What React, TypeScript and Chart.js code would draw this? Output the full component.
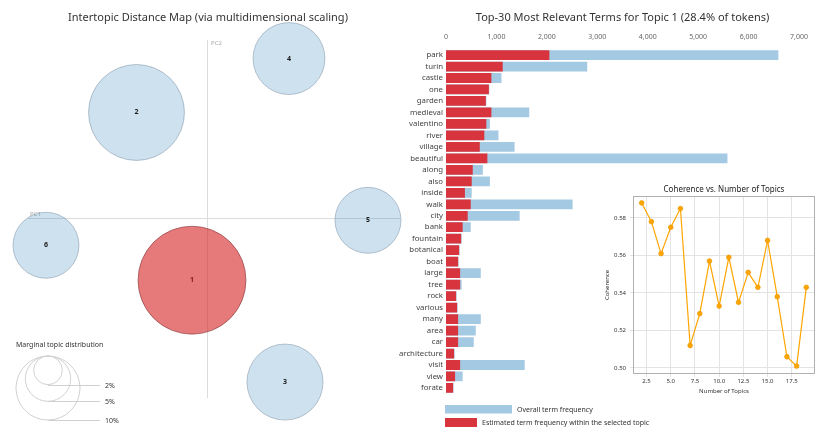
import React, { useEffect, useRef } from "react";
import { Chart, registerables } from "chart.js";
Chart.register(...registerables);

const FONT = "'Noto Sans', 'Open Sans', sans-serif";

// ---------- Intertopic distance map ----------
const topicIds = [1, 2, 3, 4, 5, 6];
const topicPC1 = [-0.015, -0.0705, 0.078, 0.082, 0.161, -0.161];
const topicPC2 = [-0.062, 0.106, -0.164, 0.16, -0.002, -0.027];
const topicShare = [28.4, 22.4, 14.1, 12.6, 10.6, 10.6];
const selectedTopic = 1;
const legendShares = [2, 5, 10];
const legendLabels = ["2%", "5%", "10%"];
const mapTitle = "Intertopic Distance Map (via multidimensional scaling)";

// ---------- Top-30 terms ----------
const terms = [
  "park", "turin", "castle", "one", "garden", "medieval", "valentino", "river", "village", "beautiful",
  "along", "also", "inside", "walk", "city", "bank", "fountain", "botanical", "boat", "large",
  "tree", "rock", "various", "many", "area", "car", "architecture", "visit", "view", "forate",
];
const overallFreq = [
  6590, 2800, 1100, 860, 800, 1650, 870, 1040, 1360, 5580,
  730, 870, 510, 2510, 1460, 490, 310, 270, 250, 690,
  310, 210, 230, 690, 590, 550, 170, 1560, 330, 150,
];
const topicFreq = [
  2050, 1125, 900, 850, 790, 900, 800, 760, 670, 820,
  530, 510, 375, 490, 430, 330, 300, 260, 240, 280,
  280, 200, 220, 240, 240, 240, 160, 280, 180, 140,
];
const barTitle = "Top-30 Most Relevant Terms for Topic 1 (28.4% of tokens)";
const overallLabel = "Overall term frequency";
const topicLabel = "Estimated term frequency within the selected topic";

// ---------- Coherence ----------
const numTopics = [2, 3, 4, 5, 6, 7, 8, 9, 10, 11, 12, 13, 14, 15, 16, 17, 18, 19];
const coherence = [
  0.588, 0.578, 0.561, 0.575, 0.585, 0.512, 0.529, 0.557, 0.533,
  0.559, 0.535, 0.551, 0.543, 0.568, 0.538, 0.506, 0.501, 0.543,
];
const cohTitle = "Coherence vs. Number of Topics";

const BLUE_FILL = "rgba(31,119,180,0.22)";
const BLUE_EDGE = "rgba(110,130,150,0.45)";
const RED_FILL = "rgba(214,39,40,0.62)";
const RED_EDGE = "rgba(120,50,50,0.55)";
const BAR_BLUE = "rgb(164,201,227)";
const BAR_RED = "rgb(216,52,61)";
const ORANGE = "#ffa500";
const RADIUS_K = 10.13;

function useChart(factory: (c: HTMLCanvasElement) => Chart) {
  const ref = useRef<HTMLCanvasElement>(null);
  useEffect(() => {
    const chart = factory(ref.current!);
    return () => chart.destroy();
  }, []);
  return ref;
}

const mapDecor = {
  id: "mapDecor",
  beforeDatasetsDraw(chart: any) {
    const { ctx } = chart;
    const x0 = chart.scales.x.getPixelForValue(0);
    const y0 = chart.scales.y.getPixelForValue(0);
    ctx.save();
    ctx.strokeStyle = "#dcdcdc";
    ctx.lineWidth = 1;
    ctx.beginPath();
    ctx.moveTo(Math.round(x0) + 0.5, 40);
    ctx.lineTo(Math.round(x0) + 0.5, 398);
    ctx.moveTo(28, Math.round(y0) + 0.5);
    ctx.lineTo(400, Math.round(y0) + 0.5);
    ctx.stroke();
    ctx.fillStyle = "#aaa";
    ctx.font = `6px ${FONT}`;
    ctx.textBaseline = "middle";
    ctx.textAlign = "left";
    ctx.fillText("PC2", x0 + 4, 43);
    ctx.fillText("PC1", 30, y0 - 4);
    ctx.restore();
  },
  afterDatasetsDraw(chart: any) {
    const { ctx } = chart;
    const meta = chart.getDatasetMeta(0);
    ctx.save();
    ctx.textAlign = "center";
    ctx.textBaseline = "middle";
    ctx.font = `bold 7px ${FONT}`;
    meta.data.forEach((el: any, i: number) => {
      ctx.fillStyle = topicIds[i] === selectedTopic ? "#8b1a1a" : "#1a1a1a";
      ctx.fillText(String(topicIds[i]), el.x, el.y);
    });
    // marginal topic distribution legend
    ctx.fillStyle = "#333";
    ctx.font = `7px ${FONT}`;
    ctx.textAlign = "left";
    ctx.fillText("Marginal topic distribution", 16, 345);
    const cx = 48;
    const top = 356;
    ctx.strokeStyle = "#d0d0d0";
    ctx.lineWidth = 1;
    legendShares.forEach((s, i) => {
      const r = RADIUS_K * Math.sqrt(s);
      ctx.beginPath();
      ctx.arc(cx, top + r, r, 0, Math.PI * 2);
      ctx.stroke();
      const yb = Math.round(top + 2 * r) + 0.5;
      ctx.beginPath();
      ctx.moveTo(cx, yb);
      ctx.lineTo(100, yb);
      ctx.stroke();
      ctx.fillStyle = "#333";
      ctx.fillText(legendLabels[i], 105, yb);
    });
    ctx.restore();
  },
};

function IntertopicMap() {
  const ref = useChart((c) =>
    new Chart(c, {
      type: "bubble",
      data: {
        datasets: [
          {
            data: topicIds.map((id, i) => ({
              x: topicPC1[i],
              y: topicPC2[i],
              r: RADIUS_K * Math.sqrt(topicShare[i]),
            })),
            backgroundColor: topicIds.map((id) => (id === selectedTopic ? RED_FILL : BLUE_FILL)),
            borderColor: topicIds.map((id) => (id === selectedTopic ? RED_EDGE : BLUE_EDGE)),
            borderWidth: 1,
            clip: false,
          } as any,
        ],
      },
      options: {
        responsive: false,
        animation: false,
        layout: { padding: 0, autoPadding: false },
        scales: {
          x: { display: false, min: -0.207, max: 0.209 },
          y: { display: false, min: -0.214, max: 0.194 },
        },
        plugins: {
          legend: { display: false },
          tooltip: { enabled: false },
          title: {
            display: true,
            text: mapTitle,
            color: "#333",
            font: { size: 11, family: FONT, weight: "normal" },
            padding: { top: 11.4, bottom: 0 },
          },
        },
      } as any,
      plugins: [mapDecor],
    })
  );
  return (
    <canvas ref={ref} width={416} height={432}
      style={{ position: "absolute", left: 0, top: 0, width: 416, height: 432 }} />
  );
}

const barLegend = {
  id: "barLegend",
  afterDraw(chart: any) {
    const { ctx, chartArea } = chart;
    const x = chartArea.left - 1;
    ctx.save();
    ctx.font = `7px ${FONT}`;
    ctx.textBaseline = "middle";
    ctx.textAlign = "left";
    ctx.fillStyle = BAR_BLUE;
    ctx.fillRect(x, 405, 67, 8.5);
    ctx.fillStyle = "#333";
    ctx.fillText(overallLabel, x + 72, 409.5);
    ctx.fillStyle = BAR_RED;
    ctx.fillRect(x, 418, 32, 9);
    ctx.fillStyle = "#333";
    ctx.fillText(topicLabel, x + 37, 423);
    ctx.restore();
  },
};

function TermBars() {
  const ref = useChart((c) =>
    new Chart(c, {
      type: "bar",
      data: {
        labels: terms,
        datasets: [
          {
            label: topicLabel,
            data: topicFreq,
            backgroundColor: BAR_RED,
            grouped: false,
            order: 0,
            categoryPercentage: 0.85,
            barPercentage: 1,
          } as any,
          {
            label: overallLabel,
            data: overallFreq,
            backgroundColor: BAR_BLUE,
            grouped: false,
            order: 1,
            categoryPercentage: 0.85,
            barPercentage: 1,
          } as any,
        ],
      },
      options: {
        indexAxis: "y",
        responsive: false,
        animation: false,
        layout: { padding: { top: 0, right: 15, bottom: 38.3, left: 0 } },
        scales: {
          x: {
            position: "top",
            min: 0,
            max: 7000,
            ticks: { stepSize: 1000, padding: 8, color: "#666", font: { size: 7, family: FONT } },
            grid: { display: false, drawTicks: false },
            border: { display: false },
            afterFit: (s: any) => { s.height = 24.7; },
          },
          y: {
            ticks: { padding: 3, color: "#444", autoSkip: false, font: { size: 7.8, family: FONT } },
            grid: { display: false, drawTicks: false },
            border: { display: false },
            afterFit: (s: any) => { s.width = 66; },
          },
        },
        plugins: {
          legend: { display: false },
          tooltip: { enabled: false },
          title: {
            display: true,
            fullSize: false,
            text: barTitle,
            color: "#333",
            font: { size: 11, family: FONT, weight: "normal" },
            padding: { top: 11.4, bottom: 0 },
          },
        },
      } as any,
      plugins: [barLegend],
    })
  );
  return (
    <canvas ref={ref} width={436} height={432}
      style={{ position: "absolute", left: 380, top: 0, width: 436, height: 432 }} />
  );
}

const frame = {
  id: "frame",
  afterDatasetsDraw(chart: any) {
    const { ctx, chartArea: a } = chart;
    ctx.save();
    ctx.strokeStyle = "#b0b0b0";
    ctx.lineWidth = 1;
    ctx.strokeRect(Math.round(a.left) + 0.5, Math.round(a.top) + 0.5,
      Math.round(a.right - a.left) - 1, Math.round(a.bottom - a.top) - 1);
    ctx.restore();
  },
};

function CoherenceChart() {
  const ref = useChart((c) =>
    new Chart(c, {
      type: "line",
      data: {
        datasets: [
          {
            data: numTopics.map((n, i) => ({ x: n, y: coherence[i] })),
            borderColor: ORANGE,
            backgroundColor: ORANGE,
            borderWidth: 1.2,
            pointRadius: 2.4,
            pointBorderWidth: 0.6,
            pointBorderColor: "#e69500",
            tension: 0,
          },
        ],
      },
      options: {
        responsive: false,
        animation: false,
        layout: { padding: { top: 0, right: 1, left: 0, bottom: 0 }, autoPadding: false },
        scales: {
          x: {
            type: "linear",
            min: 1.1,
            max: 19.9,
            ticks: {
              stepSize: 2.5,
              includeBounds: false,
              maxRotation: 0,
              padding: 1,
              color: "#333",
              font: { size: 6, family: FONT },
              callback: (v: any) => Number(v).toFixed(1),
            },
            grid: { color: "#e3e3e3", tickLength: 3, drawTicks: true },
            border: { display: false },
            title: {
              display: true,
              text: "Number of Topics",
              color: "#333",
              font: { size: 6, family: FONT },
              padding: { top: 0, bottom: 5 },
            },
            afterFit: (s: any) => { s.height = 26; },
          },
          y: {
            min: 0.4968,
            max: 0.5917,
            ticks: {
              stepSize: 0.02,
              includeBounds: false,
              padding: 4,
              color: "#333",
              font: { size: 6, family: FONT },
              callback: (v: any) => Number(v).toFixed(2),
            },
            grid: { color: "#e3e3e3", tickLength: 3, drawTicks: true },
            border: { display: false },
            title: {
              display: true,
              text: "Coherence",
              color: "#333",
              font: { size: 6, family: FONT },
              padding: { top: 4, bottom: 0 },
            },
            afterFit: (s: any) => { s.width = 33; },
          },
        },
        plugins: {
          legend: { display: false },
          tooltip: { enabled: false },
          title: {
            display: true,
            fullSize: false,
            text: cohTitle,
            color: "#222",
            font: { size: 8, family: FONT, weight: "normal" },
            padding: { top: 10.2, bottom: 1.2 },
          },
        },
      } as any,
      plugins: [frame],
    })
  );
  return (
    <canvas ref={ref} width={216} height={225}
      style={{ position: "absolute", left: 600, top: 175, width: 216, height: 225 }} />
  );
}

export default function App() {
  return (
    <div style={{ position: "fixed", left: 0, top: 0, width: 816, height: 432, background: "#fff", overflow: "hidden" }}>
      <IntertopicMap />
      <TermBars />
      <CoherenceChart />
    </div>
  );
}
